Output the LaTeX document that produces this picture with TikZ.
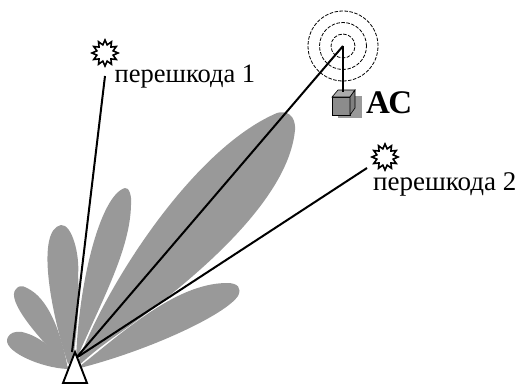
\documentclass[tikz,border=0pt]{standalone}
\usepackage{fontspec}
\setmainfont{Liberation Serif}
\usetikzlibrary{shapes.geometric}
\definecolor{lobe}{gray}{0.6}
\tikzset{
 lobefill/.style={fill=lobe,draw=none},
 burst/.style={star,star points=12,star point ratio=1.55,draw=black,fill=white,line width=1.6pt,minimum size=26pt,inner sep=0pt},
 conn/.style={draw=black,line width=2pt},
 wave/.style={draw=black,dashed,dash pattern=on 3.5pt off 1.5pt,line width=0.8pt},
 lbl/.style={inner sep=0pt,anchor=base west,font=\fontsize{26.5pt}{28pt}\selectfont},
}
\begin{document}
\begin{tikzpicture}[x=1pt,y=-1pt]
\useasboundingbox (0,0) rectangle (518,385);
% lobes
% main
\fill[lobefill] (76,368) .. controls (100,295) and (190,150) .. (277,113) .. controls (286,110) and (296,115) .. (295,130) .. controls (290,185) and (230,255) .. (117,335) .. controls (100,347) and (90,355) .. (76,368) -- cycle;
% low right
\fill[lobefill] (80,366) .. controls (120,335) and (175,283) .. (227,283) .. controls (238,283) and (242,288) .. (238,296) .. controls (225,315) and (150,350) .. (80,368) -- cycle;
% third
\fill[lobefill] (76,362) .. controls (78,285) and (100,195) .. (125,188) .. controls (129,187) and (132,196) .. (131,205) .. controls (130,250) and (102,300) .. (77,358) -- cycle;
% fourth
\fill[lobefill] (68,364) .. controls (50,310) and (36,230) .. (61,225) .. controls (72,224) and (80,255) .. (78,275) .. controls (80,300) and (77,330) .. (73,360) -- cycle;
% fifth
\fill[lobefill] (67,366) .. controls (40,340) and (5,300) .. (16,289) .. controls (18,286) and (22,285) .. (27,288) .. controls (48,298) and (60,330) .. (67,364) -- cycle;
% sixth
\fill[lobefill] (68,369) .. controls (40,368) and (0,350) .. (8,337) .. controls (10,333) and (15,331) .. (22,332) .. controls (40,336) and (55,350) .. (68,367) -- cycle;
% target
\node[circle,wave,minimum size=70pt,inner sep=0pt] (w3) at (343,46) {};
\node[circle,wave,minimum size=47pt,inner sep=0pt] (w2) at (343,46) {};
\node[circle,wave,minimum size=24pt,inner sep=0pt] (w1) at (343,46) {};
\coordinate (src) at (343,46);
\coordinate (base) at (343,92);
\coordinate (ant) at (76,358);
\coordinate (ant1) at (72,352);
\node[burst] (j1) at (105,53) {};
\node[burst] (j2) at (385,157) {};
\coordinate (j1end) at (105,76);
\coordinate (j2end) at (367,168);
% cube
\fill[lobe] (338,96) -- (362,96) -- (362,118) -- (338,118) -- cycle;
\filldraw[fill=gray!90,draw=black,line width=0.6pt] (332,97) -- (350,97) -- (350,115) -- (332,115) -- cycle;
\filldraw[fill=gray!65,draw=black,line width=0.6pt] (332,97) -- (338,90) -- (355,90) -- (350,97) -- cycle;
\filldraw[fill=gray,draw=black,line width=0.6pt] (350,97) -- (355,90) -- (355,108) -- (350,115) -- cycle;
% connectors
\draw[conn] (ant1) -- (j1end);
\draw[conn] (ant) -- (src);
\draw[conn] (ant) -- (j2end);
\draw[conn] (src) -- (base);
% antenna
\filldraw[fill=white,draw=black,line width=1.9pt] (75,352) -- (87,383) -- (63,383) -- cycle;
% labels
\node[lbl] (t1) at (114.5,82) {перешкода 1};
\node[lbl,font=\fontsize{27pt}{28pt}\selectfont] (t2) at (373,190) {перешкода 2};
\node[lbl,font=\fontsize{33pt}{34pt}\selectfont\bfseries] (ac) at (366,113) {АС};
\end{tikzpicture}
\end{document}
